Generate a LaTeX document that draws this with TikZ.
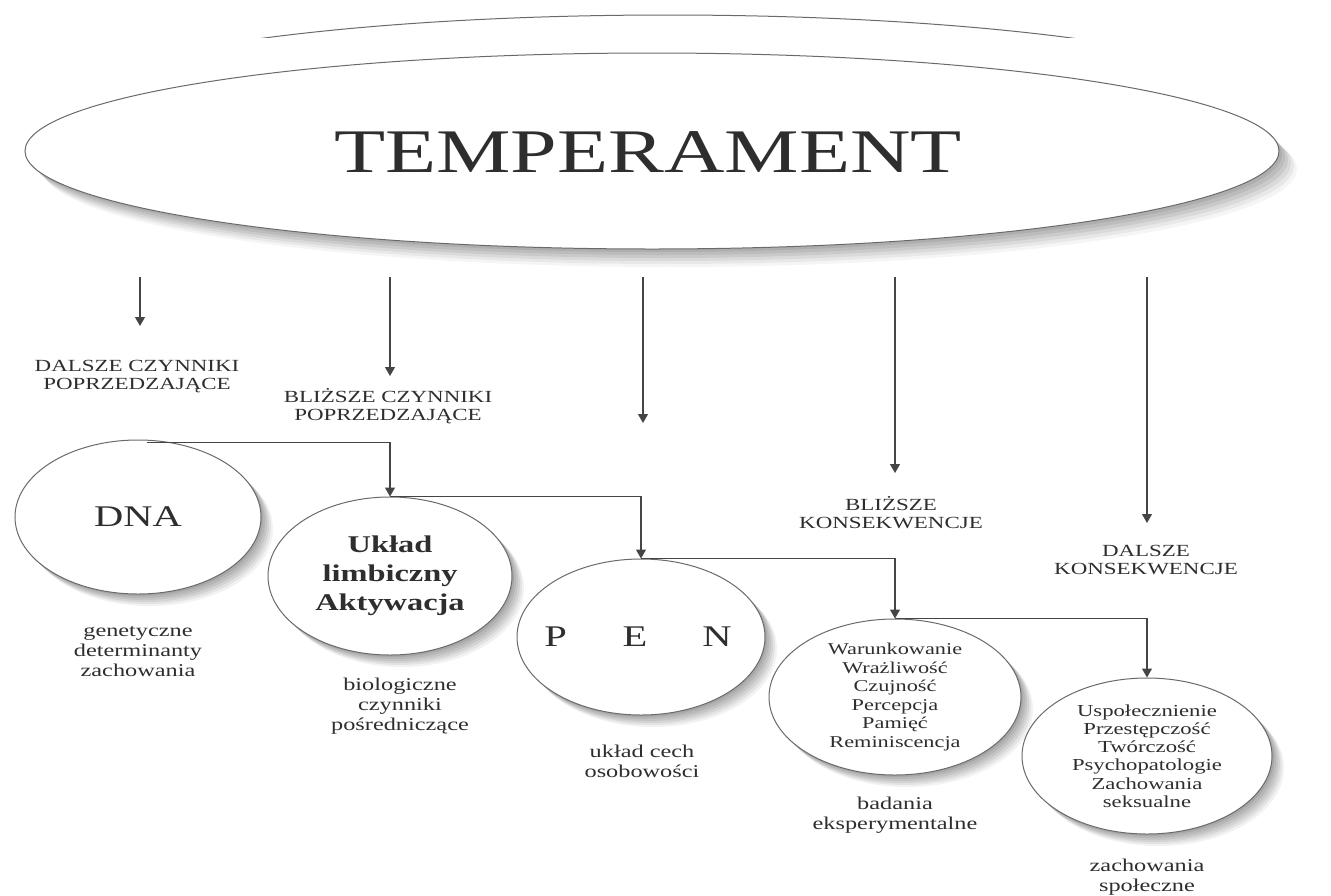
\documentclass[tikz,border=0pt]{standalone}
\usepackage{fontspec}
\setmainfont{Liberation Serif}[FakeStretch=1.35]
\usetikzlibrary{shapes.geometric,arrows.meta,shadows}
\definecolor{ln}{HTML}{454545}
\definecolor{ov}{HTML}{6A6A6A}
\definecolor{tx}{HTML}{2E2E2E}
\begin{document}
\begin{tikzpicture}[x=1pt,y=-1pt,
  softshadow/.style={
    general shadow={fill=black,opacity=0.07,shadow xshift=2pt,shadow yshift=-2pt},
    general shadow={fill=black,opacity=0.07,shadow xshift=4pt,shadow yshift=-4pt},
    general shadow={fill=black,opacity=0.07,shadow xshift=6pt,shadow yshift=-6pt},
    general shadow={fill=black,opacity=0.07,shadow xshift=8pt,shadow yshift=-8pt},
    general shadow={fill=black,opacity=0.06,shadow xshift=10pt,shadow yshift=-10pt},
    general shadow={fill=black,opacity=0.05,shadow xshift=12pt,shadow yshift=-12pt}},
  bigshadow/.style={
    general shadow={fill=black,opacity=0.07,shadow xshift=3pt,shadow yshift=-3pt},
    general shadow={fill=black,opacity=0.07,shadow xshift=6pt,shadow yshift=-6pt},
    general shadow={fill=black,opacity=0.07,shadow xshift=9pt,shadow yshift=-9pt},
    general shadow={fill=black,opacity=0.06,shadow xshift=12pt,shadow yshift=-12pt},
    general shadow={fill=black,opacity=0.05,shadow xshift=15pt,shadow yshift=-15pt},
    general shadow={fill=black,opacity=0.04,shadow xshift=18pt,shadow yshift=-18pt}},
  oval/.style={ellipse,draw=ov,line width=1pt,fill=white,inner sep=0pt,softshadow},
  conn/.style={draw=ln,line width=1.2pt,-{Triangle[length=9pt,width=10pt]}},
  caplbl/.style={text=tx,align=center,font=\fontsize{17}{18}\selectfont,inner sep=0pt},
  sublbl/.style={text=tx,align=center,font=\fontsize{18}{20}\selectfont,inner sep=0pt},
  listtxt/.style={text=tx,align=center,font=\fontsize{16.5}{18.6}\selectfont,inner sep=0pt},
]
\useasboundingbox (0,0) rectangle (1331,895);
\fill[white] (0,0) rectangle (1331,895);

% leftover arc at the top
\begin{scope}
  \clip (0,0) rectangle (1331,37);
  \draw[ov,line width=1pt] (668,113) ellipse [x radius=627,y radius=98];
\end{scope}

% main ellipse
\node[ellipse,draw=ov,line width=1pt,fill=white,inner sep=0pt,bigshadow,
      minimum width=1254pt,minimum height=196pt] (main) at (652,151) {};
\node[text=tx,inner sep=0pt,font=\fontsize{62}{62}\selectfont] (mainT) at (648,152) {TEMPERAMENT};

% down arrows
\coordinate (s1) at (140,277); \coordinate (e1) at (140,326);
\coordinate (s2) at (390,277); \coordinate (e2) at (390,376);
\coordinate (s3) at (643,277); \coordinate (e3) at (643,423);
\coordinate (s4) at (895,277); \coordinate (e4) at (895,473);
\coordinate (s5) at (1147,277); \coordinate (e5) at (1147,523);
\foreach \i in {1,...,5} \draw[conn] (s\i) -- (e\i);

% upper labels
\node[caplbl] (l1) at (137,377) {DALSZE CZYNNIKI\\POPRZEDZAJĄCE};
\node[caplbl] (l2) at (388,406) {BLIŻSZE CZYNNIKI\\POPRZEDZAJĄCE};
\node[caplbl] (l3) at (891,513) {BLIŻSZE\\KONSEKWENCJE};
\node[caplbl] (l4) at (1146,560) {DALSZE\\KONSEKWENCJE};

% ellipses
\node[oval,minimum width=246pt,minimum height=154pt] (dna) at (138,517) {};
\node[oval,minimum width=244pt,minimum height=158pt] (limb) at (390,576) {};
\node[oval,minimum width=248pt,minimum height=156pt] (pen) at (641,637) {};
\node[oval,minimum width=252pt,minimum height=156pt] (war) at (895,697) {};
\node[oval,minimum width=250pt,minimum height=156pt] (usp) at (1147,756) {};

% texts in ellipses
\node[text=tx,inner sep=0pt,font=\fontsize{30}{30}\selectfont] (dnaT) at (dna.center) {DNA};
\node[text=tx,inner sep=0pt,align=center,font=\bfseries\fontsize{24}{29}\selectfont] (limbT) at (limb.center) {Układ\\limbiczny\\Aktywacja};
\node[text=tx,inner sep=0pt,font=\fontsize{30}{30}\selectfont] (penT) at (638,637) {P\hspace{56pt}E\hspace{55pt}N};
\node[listtxt] (warT) at (war.center) {Warunkowanie\\Wrażliwość\\Czujność\\Percepcja\\Pamięć\\Reminiscencja};
\node[listtxt,font=\fontsize{16.8}{18.3}\selectfont] (uspT) at (usp.center) {Uspołecznienie\\Przestępczość\\Twórczość\\Psychopatologie\\Zachowania\\seksualne};

% connectors between ellipses
\draw[conn] ([xshift=9pt,yshift=-3pt]dna.north) -| (limb.north);
\draw[conn] (limb.north) -| (pen.north);
\draw[conn] (pen.north) -| (war.north);
\draw[conn] (war.north) -| (usp.north);

% lower labels
\node[sublbl] (b1) at (138,652) {genetyczne\\determinanty\\zachowania};
\node[sublbl] (b2) at (400,706) {biologiczne\\czynniki\\pośredniczące};
\node[sublbl] (b3) at (642,761) {układ cech\\osobowości};
\node[sublbl] (b4) at (895,815) {badania\\eksperymentalne};
\node[sublbl] (b5) at (1147,877) {zachowania\\społeczne};
\end{tikzpicture}
\end{document}
